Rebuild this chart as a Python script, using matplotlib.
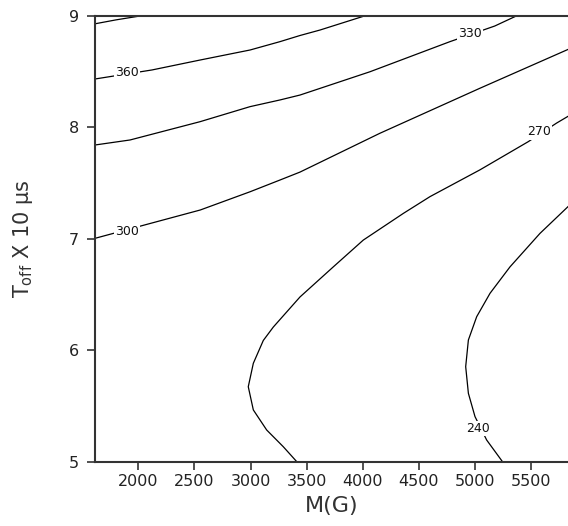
import matplotlib.pyplot as plt

# Contour lines of the response, read as (M, Toff) pairs for each level
levels = [390, 360, 330, 300, 270, 240]

m_390 = [1614, 1800, 2015]
t_390 = [8.93, 8.965, 9.0]

m_360 = [1614, 2122, 2550, 2996, 3263, 3441, 3619, 3996]
t_360 = [8.435, 8.516, 8.605, 8.695, 8.77, 8.825, 8.874, 8.994]

m_330 = [1614, 1926, 2550, 2996, 3263, 3441, 4065, 4778, 5177, 5356]
t_330 = [7.843, 7.888, 8.052, 8.187, 8.247, 8.291, 8.50, 8.77, 8.91, 8.994]

m_300 = [1614, 2164, 2552, 2997, 3263, 3441, 4153, 5045, 5830]
t_300 = [7.006, 7.155, 7.26, 7.424, 7.529, 7.60, 7.948, 8.352, 8.70]

m_270 = [3412, 3292, 3144, 3025, 2980, 3025, 3114, 3203, 3441, 3738,
         4005, 4363, 4600, 5045, 5476, 5729, 5830]
t_270 = [5.003, 5.137, 5.287, 5.467, 5.675, 5.885, 6.09, 6.21, 6.48, 6.75,
         6.99, 7.23, 7.38, 7.62, 7.873, 8.04, 8.10]

m_240 = [5248, 5105, 5001, 4942, 4918, 4942, 5016, 5135, 5313, 5580, 5830]
t_240 = [5.0, 5.197, 5.407, 5.616, 5.855, 6.094, 6.303, 6.513, 6.75, 7.05, 7.29]

lines = [(m_390, t_390), (m_360, t_360), (m_330, t_330),
         (m_300, t_300), (m_270, t_270), (m_240, t_240)]

# inline labels: level, M, Toff
label_levels = [360, 330, 300, 270, 240]
label_m = [1900, 4955, 1900, 5570, 5028]
label_t = [8.49, 8.84, 7.066, 7.96, 5.30]

x_ticks = [2000, 2500, 3000, 3500, 4000, 4500, 5000, 5500]
y_ticks = [5, 6, 7, 8, 9]

fig = plt.figure(figsize=(5.68, 5.26), dpi=100)
ax = fig.add_axes([0.1673, 0.1217, 0.8327, 0.8479])

for m, t in lines:
    ax.plot(m, t, color='black', lw=0.9)

for lv, m, t in zip(label_levels, label_m, label_t):
    ax.text(m, t, str(lv), fontsize=9, ha='center', va='center', color='#111',
            bbox=dict(facecolor='white', edgecolor='none', pad=1.0))

ax.set_xlim(1614, 5830)
ax.set_ylim(5, 9)
ax.set_xticks(x_ticks)
ax.set_yticks(y_ticks)
ax.tick_params(direction='out', length=5.5, width=1.2, colors='#333',
               labelsize=11.5, labelcolor='#222')
ax.tick_params(axis='y', pad=6)

for side in ['left', 'bottom', 'top']:
    ax.spines[side].set_color('#333')
    ax.spines[side].set_linewidth(1.5)
ax.spines['right'].set_visible(False)

ax.set_xlabel('M(G)', fontsize=16, color='#333', labelpad=5)
ax.set_ylabel(r'T$_{\mathregular{off}}$ X 10 µs', fontsize=15, color='#333', labelpad=24)

fig.savefig('out.png', dpi=100)
